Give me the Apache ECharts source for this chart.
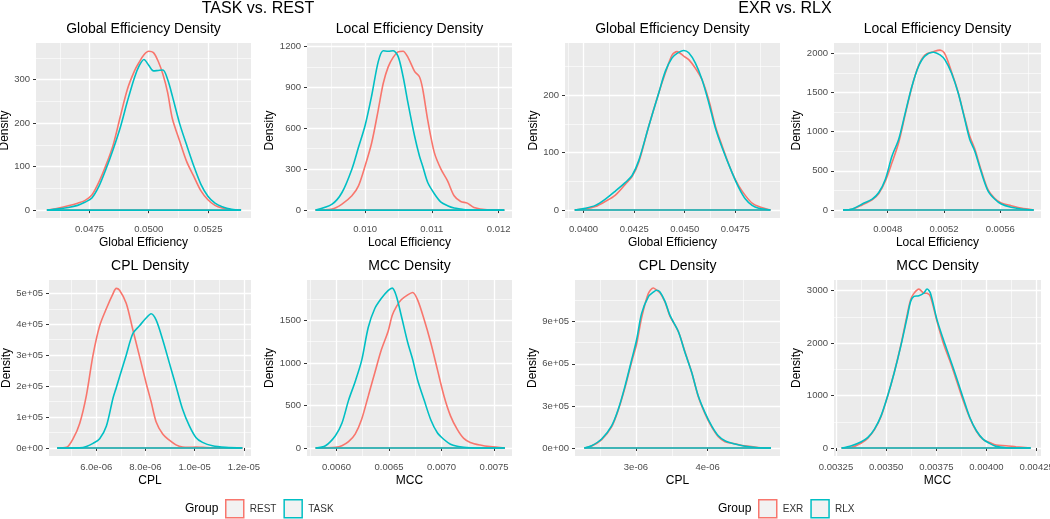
<!DOCTYPE html>
<html><head><meta charset="utf-8">
<script src="https://cdn.jsdelivr.net/npm/echarts@6/dist/echarts.min.js"></script>
<style>html,body{margin:0;padding:0;background:#fff}#c{width:1050px;height:519px}</style>
</head><body><div id="c"></div>
<script>
// ---------------- DATA ----------------
const groupsLeft = ['REST', 'TASK'];
const groupsRight = ['EXR', 'RLX'];

// Panel 1: Global Efficiency (TASK vs. REST)
const p1X = [0.0457,0.0462,0.0466,0.0470,0.0473,0.0476,0.0479,0.0482,0.0485,0.0488,0.0491,0.0494,0.0496,0.0498,0.0500,0.0502,0.0504,0.0506,0.0508,0.0510,0.0513,0.0516,0.0519,0.0522,0.0525,0.0528,0.0531,0.0535,0.0539];
const p1Rest = [0,5,10,16,22,35,65,104,150,215,278,320,340,357,365,362,342,312,270,210,160,112,78,45,24,11,5,1,0];
const p1Task = [0,3,6,11,18,28,55,95,140,190,250,305,332,346,333,320,321,322,300,262,200,150,102,60,32,16,8,2,0];
const p1XTicks = [0.0475,0.0500,0.0525], p1XLabels = ['0.0475','0.0500','0.0525'], p1XMinor = [0.04625,0.04875,0.05125,0.05375];
const p1YTicks = [0,100,200,300], p1YLabels = ['0','100','200','300'], p1YMinor = [50,150,250,350];

// Panel 2: Local Efficiency (TASK vs. REST)
const p2X = [0.009259,0.009506,0.009654,0.009802,0.009901,0.010000,0.010099,0.010198,0.010272,0.010346,0.010420,0.010494,0.010568,0.010642,0.010741,0.010815,0.010864,0.010938,0.011037,0.011136,0.011235,0.011333,0.011432,0.011531,0.011630,0.011827,0.012084];
const p2Rest = [0,7,44,105,178,324,494,737,930,1050,1120,1160,1165,1120,1017,976,884,660,421,300,214,105,63,51,19,2,0];
const p2Task = [0,44,129,300,460,620,840,1090,1168,1165,1168,1127,981,786,543,395,320,202,120,58,32,15,8,2,1,0,0];
const p2XTicks = [0.010,0.011,0.012], p2XLabels = ['0.010','0.011','0.012'], p2XMinor = [0.0095,0.0105,0.0115];
const p2YTicks = [0,300,600,900,1200], p2YLabels = ['0','300','600','900','1200'], p2YMinor = [150,450,750,1050];

// Panel 3: Global Efficiency (EXR vs. RLX)
const p3X = [0.039562,0.040089,0.040583,0.041078,0.041572,0.042067,0.042396,0.042726,0.04322,0.043715,0.044044,0.044374,0.044621,0.044951,0.045198,0.045527,0.045857,0.046187,0.046516,0.046846,0.04734,0.04767,0.048,0.048329,0.048659,0.049236];
const p3Exr = [0,2,6,15,26,45,58,83,146,204,239,270,276,268,262,247,227,192,146,112,65,42,25,12,6,0];
const p3Rlx = [0,3,8,19,33,48,60,86,146,204,242,265,273,278,274,256,227,187,143,109,65,39,19,8,3,0];
const p3XTicks = [0.0400,0.0425,0.0450,0.0475], p3XLabels = ['0.0400','0.0425','0.0450','0.0475'], p3XMinor = [0.03925,0.04125,0.04375,0.04625,0.04875];
const p3YTicks = [0,100,200], p3YLabels = ['0','100','200'], p3YMinor = [50,150,250];

// Panel 4: Local Efficiency (EXR vs. RLX)
const p4X = [0.0044824,0.0045482,0.0046188,0.0046894,0.0047365,0.0047835,0.0048306,0.0048776,0.0049247,0.0049718,0.0050188,0.0050659,0.0051247,0.0051718,0.0052071,0.0052541,0.0053012,0.0053482,0.0053835,0.0054188,0.0054659,0.0055129,0.0055600,0.0056071,0.0056776,0.0057482,0.0058376];
const p4Exr = [0,10,65,130,210,370,605,858,1220,1570,1840,1980,2020,2040,1990,1760,1500,1170,940,780,500,260,150,90,55,25,0];
const p4Rlx = [0,13,76,140,224,393,689,900,1239,1577,1831,1966,2013,1979,1915,1746,1493,1154,900,753,478,245,140,76,34,13,0];
const p4XTicks = [0.0048,0.0052,0.0056], p4XLabels = ['0.0048','0.0052','0.0056'], p4XMinor = [0.0046,0.0050,0.0054,0.0058];
const p4YTicks = [0,500,1000,1500,2000], p4YLabels = ['0','500','1000','1500','2000'], p4YMinor = [250,750,1250,1750];

// Panel 5: CPL (TASK vs. REST)
const p5X = [4.413e-6,4.79e-6,5.06e-6,5.33e-6,5.6e-6,5.869e-6,6.139e-6,6.409e-6,6.678e-6,6.813e-6,6.948e-6,7.218e-6,7.488e-6,7.757e-6,8.027e-6,8.229e-6,8.432e-6,8.701e-6,8.971e-6,9.241e-6,9.51e-6,9.78e-6,1.005e-5,1.032e-5,1.0724e-5,1.1264e-5,1.1938e-5];
const p5Rest = [0,2000,30000,80000,170000,300000,395000,450000,498000,516000,510000,468000,382000,297000,210000,150000,85000,45000,25000,10000,3000,2000,3000,2000,500,0,0];
const p5Task = [0,0,0,500,5000,15000,30000,70000,160000,195000,230000,300000,370000,395000,420000,434000,414000,350000,275000,200000,125000,72000,34000,18000,7000,2000,0];
const p5XTicks = [6e-6,8e-6,1e-5,1.2e-5], p5XLabels = ['6.0e-06','8.0e-06','1.0e-05','1.2e-05'], p5XMinor = [5e-6,7e-6,9e-6,1.1e-5];
const p5YTicks = [0,1e5,2e5,3e5,4e5,5e5], p5YLabels = ['0e+00','1e+05','2e+05','3e+05','4e+05','5e+05'], p5YMinor = [0.5e5,1.5e5,2.5e5,3.5e5,4.5e5];

// Panel 6: MCC (TASK vs. REST)
const p6X = [0.005802,0.005896,0.00599,0.006052,0.006115,0.006178,0.00624,0.006303,0.006365,0.006428,0.006491,0.006531,0.006569,0.006616,0.006678,0.006725,0.006772,0.006835,0.006898,0.00696,0.007023,0.007085,0.007148,0.007211,0.007273,0.007367,0.007461,0.007602];
const p6Rest = [0,2,8,27,74,164,339,612,885,1157,1370,1560,1660,1742,1800,1828,1742,1508,1235,924,612,378,222,113,66,35,16,0];
const p6Task = [0,27,145,290,560,780,1030,1420,1640,1760,1850,1880,1790,1560,1240,1040,800,560,330,180,100,45,20,8,3,0,0,0];
const p6XTicks = [0.0060,0.0065,0.0070,0.0075], p6XLabels = ['0.0060','0.0065','0.0070','0.0075'], p6XMinor = [0.00575,0.00625,0.00675,0.00725];
const p6YTicks = [0,500,1000,1500], p6YLabels = ['0','500','1000','1500'], p6YMinor = [250,750,1250,1750];

// Panel 7: CPL (EXR vs. RLX)
const p7X = [2.279e-6,2.381e-6,2.521e-6,2.66e-6,2.753e-6,2.847e-6,2.94e-6,3.009e-6,3.079e-6,3.172e-6,3.242e-6,3.288e-6,3.335e-6,3.405e-6,3.474e-6,3.591e-6,3.684e-6,3.777e-6,3.87e-6,3.963e-6,4.056e-6,4.149e-6,4.242e-6,4.381e-6,4.521e-6,4.707e-6,4.884e-6];
const p7Exr = [0,14000,60000,150000,270000,430000,615000,740000,930000,1100000,1140000,1125000,1105000,1040000,940000,830000,685000,540000,365000,245000,150000,80000,45000,30000,15000,4000,0];
const p7Rlx = [0,16000,64000,158000,276000,441000,629000,771000,959000,1077000,1110000,1124000,1112000,1045000,945000,830000,680000,540000,370000,252000,158000,87000,52000,28000,12000,2000,0];
const p7XTicks = [3e-6,4e-6], p7XLabels = ['3e-06','4e-06'], p7XMinor = [2.5e-6,3.5e-6,4.5e-6];
const p7YTicks = [0,3e5,6e5,9e5], p7YLabels = ['0e+00','3e+05','6e+05','9e+05'], p7YMinor = [1.5e5,4.5e5,7.5e5,10.5e5];

// Panel 8: MCC (EXR vs. RLX)
const p8X = [0.0032779,0.0033271,0.0033762,0.003409,0.0034418,0.0034746,0.0035074,0.0035402,0.003573,0.0036057,0.0036221,0.0036385,0.0036631,0.0036877,0.0037041,0.0037205,0.0037533,0.0037861,0.0038189,0.0038516,0.0038844,0.0039172,0.00395,0.0039828,0.0040156,0.0040484,0.0040975,0.0041467,0.0042205];
const p8Exr = [0,13,95,190,350,600,990,1440,1960,2560,2829,2950,3030,2956,2950,2892,2420,1990,1650,1280,900,570,320,165,108,57,44,25,0];
const p8Rlx = [0,44,120,203,361,614,994,1437,1943,2513,2797,2892,2905,2956,3032,2956,2449,2060,1700,1330,950,582,329,171,89,32,6,0,0];
const p8XTicks = [0.00325,0.00350,0.00375,0.00400,0.00425], p8XLabels = ['0.00325','0.00350','0.00375','0.00400','0.00425'], p8XMinor = [0.003375,0.003625,0.003875,0.004125];
const p8YTicks = [0,1000,2000,3000], p8YLabels = ['0','1000','2000','3000'], p8YMinor = [500,1500,2500];

// ---------------- LAYOUT / STYLE ----------------
const RED = '#F8766D', TEAL = '#00BFC4';
const FONT = '"Liberation Sans", Arial, Helvetica, sans-serif';

const panels = [
  {title:'Global Efficiency Density', xName:'Global Efficiency', x:p1X, a:p1Rest, b:p1Task, g:groupsLeft,
   xr:[0.04524,0.05432], yr:[-18,384], xt:p1XTicks, xl:p1XLabels, xm:p1XMinor, yt:p1YTicks, yl:p1YLabels, ym:p1YMinor,
   box:[36,43,215,175], yGap:21},
  {title:'Local Efficiency Density', xName:'Local Efficiency', x:p2X, a:p2Rest, b:p2Task, g:groupsLeft,
   xr:[0.00913,0.0122], yr:[-58,1225], xt:p2XTicks, xl:p2XLabels, xm:p2XMinor, yt:p2YTicks, yl:p2YLabels, ym:p2YMinor,
   box:[307,43,205,175], yGap:29},
  {title:'Global Efficiency Density', xName:'Global Efficiency', x:p3X, a:p3Exr, b:p3Rlx, g:groupsRight,
   xr:[0.03908,0.04971], yr:[-14,291], xt:p3XTicks, xl:p3XLabels, xm:p3XMinor, yt:p3YTicks, yl:p3YLabels, ym:p3YMinor,
   box:[565,43,215,175], yGap:24},
  {title:'Local Efficiency Density', xName:'Local Efficiency', x:p4X, a:p4Exr, b:p4Rlx, g:groupsRight,
   xr:[0.004418,0.00589], yr:[-102,2131], xt:p4XTicks, xl:p4XLabels, xm:p4XMinor, yt:p4YTicks, yl:p4YLabels, ym:p4YMinor,
   box:[834,43,207,175], yGap:28},
  {title:'CPL Density', xName:'CPL', x:p5X, a:p5Rest, b:p5Task, g:groupsLeft,
   xr:[4.08e-6,1.229e-5], yr:[-26000,543000], xt:p5XTicks, xl:p5XLabels, xm:p5XMinor, yt:p5YTicks, yl:p5YLabels, ym:p5YMinor,
   box:[49,280,202,176], yGap:34},
  {title:'MCC Density', xName:'MCC', x:p6X, a:p6Rest, b:p6Task, g:groupsLeft,
   xr:[0.00572,0.00767], yr:[-94,1975], xt:p6XTicks, xl:p6XLabels, xm:p6XMinor, yt:p6YTicks, yl:p6YLabels, ym:p6YMinor,
   box:[307,280,205,176], yGap:31},
  {title:'CPL Density', xName:'CPL', x:p7X, a:p7Exr, b:p7Rlx, g:groupsRight,
   xr:[2.149e-6,5.01e-6], yr:[-57000,1197000], xt:p7XTicks, xl:p7XLabels, xm:p7XMinor, yt:p7YTicks, yl:p7YLabels, ym:p7YMinor,
   box:[575,280,205,176], yGap:34},
  {title:'MCC Density', xName:'MCC', x:p8X, a:p8Exr, b:p8Rlx, g:groupsRight,
   xr:[0.00324,0.004272], yr:[-152,3205], xt:p8XTicks, xl:p8XLabels, xm:p8XMinor, yt:p8YTicks, yl:p8YLabels, ym:p8YMinor,
   box:[834,280,207,176], yGap:28}
];

function fmt(ticks, labels) {
  return function (v) {
    let best = 0, bd = Infinity;
    ticks.forEach((t, i) => { const d = Math.abs(t - v); if (d < bd) { bd = d; best = i; } });
    return labels[best];
  };
}
function zip(xs, ys) { return xs.map((x, i) => [x, ys[i]]); }

const grids = [], xAxes = [], yAxes = [], series = [], titles = [];
panels.forEach((p, i) => {
  const [l, t, w, h] = p.box;
  grids.push({left:l, top:t, width:w, height:h, show:true, backgroundColor:'#EBEBEB', borderWidth:0,
              containLabel:false, outerBoundsMode:'none'});
  titles.push({text:p.title, left:l + w / 2, top:t - 21, textAlign:'center', padding:0,
               textStyle:{fontFamily:FONT, fontSize:14, fontWeight:'normal', color:'#000'}});
  const lblStyle = {color:'#4D4D4D', fontSize:9.5, fontFamily:FONT};
  // major axes
  xAxes.push({type:'value', gridIndex:i, min:p.xr[0], max:p.xr[1], position:'bottom',
    axisLine:{show:false},
    axisTick:{show:true, length:3, lineStyle:{color:'#333', width:1}, customValues:p.xt},
    axisLabel:Object.assign({show:true, customValues:p.xt, formatter:fmt(p.xt, p.xl), margin:6}, lblStyle),
    splitLine:{show:true, lineStyle:{color:'#FFFFFF', width:1.3}},
    minorTick:{show:false}, minorSplitLine:{show:false},
    name:p.xName, nameLocation:'middle', nameGap:19,
    nameTextStyle:{color:'#000', fontSize:12, fontFamily:FONT}});
  yAxes.push({type:'value', gridIndex:i, min:p.yr[0], max:p.yr[1], position:'left',
    axisLine:{show:false},
    axisTick:{show:true, length:3, lineStyle:{color:'#333', width:1}, customValues:p.yt},
    axisLabel:Object.assign({show:true, customValues:p.yt, formatter:fmt(p.yt, p.yl), margin:6}, lblStyle),
    splitLine:{show:true, lineStyle:{color:'#FFFFFF', width:1.3}},
    minorTick:{show:false}, minorSplitLine:{show:false},
    name:'Density', nameLocation:'middle', nameGap:p.yGap, nameRotate:90,
    nameTextStyle:{color:'#000', fontSize:12, fontFamily:FONT}});
  // minor axes (gridlines only)
  xAxes.push({type:'value', gridIndex:i, min:p.xr[0], max:p.xr[1], position:'top',
    axisLine:{show:false}, axisTick:{show:false, customValues:p.xm}, axisLabel:{show:false},
    splitLine:{show:true, lineStyle:{color:'#FFFFFF', width:0.6}}});
  yAxes.push({type:'value', gridIndex:i, min:p.yr[0], max:p.yr[1], position:'right',
    axisLine:{show:false}, axisTick:{show:false, customValues:p.ym}, axisLabel:{show:false},
    splitLine:{show:true, lineStyle:{color:'#FFFFFF', width:0.6}}});

  const xi = 2 * i;
  const x0 = p.x[0], x1 = p.x[p.x.length - 1];
  [[p.g[0], p.a, RED], [p.g[1], p.b, TEAL]].forEach(([name, ys, col]) => {
    series.push({type:'line', name:name, xAxisIndex:xi, yAxisIndex:xi, data:zip(p.x, ys),
      symbol:'none', showSymbol:false, smooth:0.3, silent:true,
      lineStyle:{color:col, width:1.6}, itemStyle:{color:col}});
    series.push({type:'line', name:name + ' base', xAxisIndex:xi, yAxisIndex:xi, data:[[x0, 0], [x1, 0]],
      symbol:'none', showSymbol:false, silent:true,
      lineStyle:{color:col, width:1.6}, itemStyle:{color:col}});
  });
});

titles.push({text:'TASK vs. REST', left:258, top:1, textAlign:'center', padding:0,
             textStyle:{fontFamily:FONT, fontSize:16, fontWeight:'normal', color:'#000'}});
titles.push({text:'EXR vs. RLX', left:785, top:1, textAlign:'center', padding:0,
             textStyle:{fontFamily:FONT, fontSize:16, fontWeight:'normal', color:'#000'}});

function legendItems(names) {
  return names.map((n, i) => ({name:n, itemStyle:{color:'#F2F2F2', borderColor:i === 0 ? RED : TEAL, borderWidth:1.5}}));
}
const legendCommon = {orient:'horizontal', top:499, itemWidth:18, itemHeight:18, itemGap:7, icon:'rect',
  selectedMode:false, padding:0, textStyle:{fontSize:10, color:'#333', fontFamily:FONT, padding:[0,0,0,1]}};

const chart = echarts.init(document.getElementById('c'), null, {renderer:'canvas'});
chart.setOption({
  animation:false,
  backgroundColor:'#FFFFFF',
  title:titles,
  grid:grids,
  xAxis:xAxes,
  yAxis:yAxes,
  legend:[
    Object.assign({}, legendCommon, {left:225, data:legendItems(groupsLeft)}),
    Object.assign({}, legendCommon, {left:758, data:legendItems(groupsRight)})
  ],
  graphic:[
    {type:'text', left:185, top:503, style:{text:'Group', fontSize:12, fontFamily:FONT, fill:'#000'}},
    {type:'text', left:718, top:503, style:{text:'Group', fontSize:12, fontFamily:FONT, fill:'#000'}}
  ],
  series:series
});
</script></body></html>
